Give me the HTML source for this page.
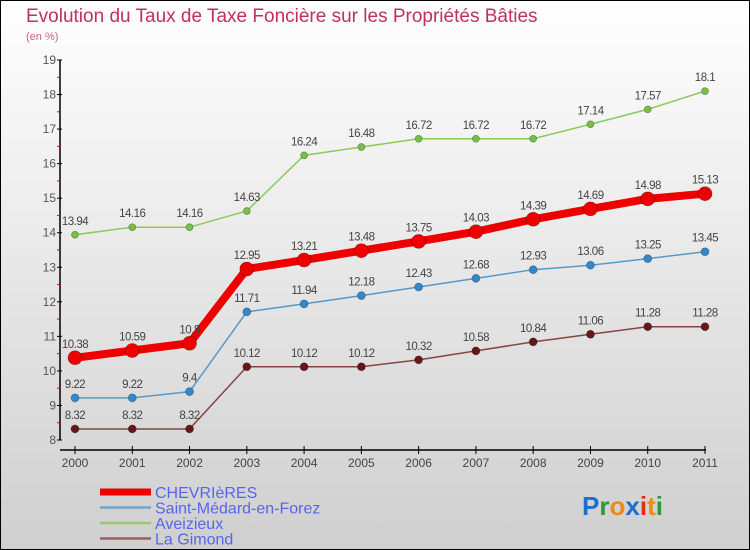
<!DOCTYPE html>
<html><head><meta charset="utf-8">
<style>
html,body{margin:0;padding:0}
body{width:750px;height:550px;overflow:hidden;font-family:"Liberation Sans",sans-serif}
#wrap{position:relative;width:748px;height:548px;border:1px solid #000;background:linear-gradient(#ffffff,#cfcfcf)}
</style></head><body>
<div id="wrap">
<svg id="chart" width="748" height="548" viewBox="1 1 748 548" style="position:absolute;left:0;top:0">
<text x="26" y="22" font-size="19" fill="#c0305e">Evolution du Taux de Taxe Foncière sur les Propriétés Bâties</text>
<text x="26" y="40" font-size="11" fill="#d06080">(en %)</text>
<g id="axes"></g><g id="series"></g><g id="legend"></g>
<g font-size="26" font-weight="bold" font-family="'Liberation Sans',sans-serif">
<text x="582" y="515"><tspan fill="#1a6fd0">P</tspan><tspan fill="#2a9a3a">r</tspan><tspan fill="#f08a10">o</tspan><tspan fill="#1a6fd0">x</tspan><tspan fill="#e03010">i</tspan><tspan fill="#f08a10">t</tspan><tspan fill="#2a9a3a">i</tspan></text>
</g>
</svg>
</div>
<script>
const years=["2000","2001","2002","2003","2004","2005","2006","2007","2008","2009","2010","2011"];
const yTicks=[8,9,10,11,12,13,14,15,16,17,18,19];
const chevrieres=[10.38,10.59,10.8,12.95,13.21,13.48,13.75,14.03,14.39,14.69,14.98,15.13];
const saintMedard=[9.22,9.22,9.4,11.71,11.94,12.18,12.43,12.68,12.93,13.06,13.25,13.45];
const aveizieux=[13.94,14.16,14.16,14.63,16.24,16.48,16.72,16.72,16.72,17.14,17.57,18.1];
const laGimond=[8.32,8.32,8.32,10.12,10.12,10.12,10.32,10.58,10.84,11.06,11.28,11.28];
const NS="http://www.w3.org/2000/svg";
function xs(i){return 75+i*(630/11);}
function ys(v){return 440-(v-8)*(380/11);}
function mk(tag,attrs,parent){const e=document.createElementNS(NS,tag);for(const k in attrs)e.setAttribute(k,attrs[k]);parent.appendChild(e);return e;}
const axes=document.getElementById('axes');
let a=mk('line',{x1:60,y1:ys(19),x2:60,y2:ys(8),stroke:'#000','stroke-width':1.5},axes);


yTicks.forEach(t=>{
 const l=mk('line',{x1:57,x2:62,y1:ys(t),y2:ys(t),stroke:'#000'},axes);
 
 
 const tx=mk('text',{x:56,y:ys(t)+4,'font-size':12,'text-anchor':'end',fill:'#555'},axes);tx.textContent=t;
 
 
 if(t<19){const m=mk('line',{x1:57,x2:60,y1:ys(t+0.5),y2:ys(t+0.5),stroke:'#e00'},axes);
 
 }
});
a=mk('line',{x1:60,y1:450,x2:706,y2:450,stroke:'#000','stroke-width':1.5},axes);


years.forEach((y,i)=>{
 const l=mk('line',{x1:xs(i),x2:xs(i),y1:446,y2:454,stroke:'#000'},axes);
 
 
 const tx=mk('text',{x:xs(i),y:467,'font-size':12,'text-anchor':'middle',fill:'#444'},axes);tx.textContent=y;
 
 
});
const series=[
 {name:'aveizieux',data:aveizieux,color:'#88cc55',w:1.5,r:3.5,fill:'#77c044',label:'Aveizieux'},
 {name:'saint-medard',data:saintMedard,color:'#5599cc',w:1.5,r:4,fill:'#3388cc',label:'Saint-Médard-en-Forez'},
 {name:'la-gimond',data:laGimond,color:'#884444',w:1.5,r:4,fill:'#661818',label:'La Gimond'},
 {name:'chevrieres',data:chevrieres,color:'#ee0000',w:8,r:7,fill:'#ee0000',label:'CHEVRIèRES'}
];
const sg=document.getElementById('series');
series.forEach(s=>{
 const g=mk('g',{},sg);
 
 
 const p=mk('polyline',{points:s.data.map((v,i)=>xs(i)+','+ys(v)).join(' '),fill:'none',stroke:s.color,'stroke-width':s.w,'stroke-linejoin':'round'},g);
 
 
 s.data.forEach((v,i)=>{
  const c=mk('circle',{cx:xs(i),cy:ys(v),r:s.r,fill:s.fill,stroke:'rgba(0,0,0,0.3)','stroke-width':0.8},g);
  
  
  const t=mk('text',{x:xs(i),y:ys(v)-10,'font-size':11.5,'text-anchor':'middle',fill:'#444','letter-spacing':'-0.5'},g);t.textContent=v;
  
  
 });
});
const lg=document.getElementById('legend');
const legendOrder=[series[3],series[1],series[0],series[2]];
legendOrder.forEach((s,k)=>{
 const y=492+k*15.5;
 const g=mk('g',{},lg);
 
 
 mk('line',{x1:100,x2:151,y1:y,y2:y,stroke:s.color,'stroke-width':k==0?7:2.5,opacity:k==0?1:0.8},g);
 const t=mk('text',{x:155,y:y+6,'font-size':16,fill:'#5566ee'},g);t.textContent=s.label;
});
</script>
</body></html>
